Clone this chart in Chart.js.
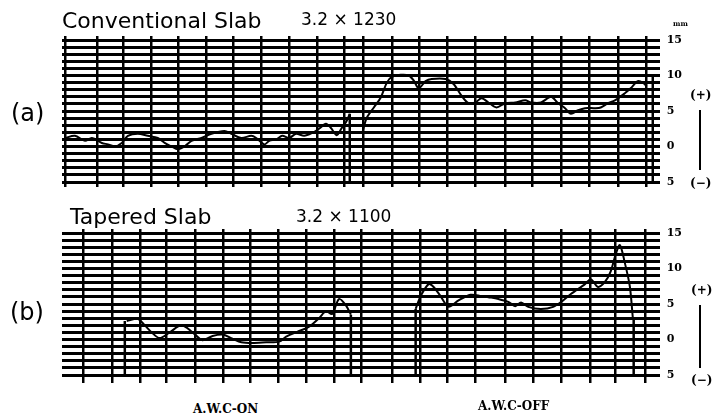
<!DOCTYPE html>
<html>
<head>
<meta charset="utf-8">
<script src="https://cdn.jsdelivr.net/npm/chart.js@4.4.1/dist/chart.umd.min.js"></script>
<style>
body { margin: 0; background: #fff; }
#wrap { position: relative; width: 720px; height: 416px; overflow: hidden; background: #fff; }
canvas { position: absolute; left: 0; }
.t { position: absolute; color: #000; white-space: nowrap; line-height: 1; }
.hand { font-family: "DejaVu Sans", sans-serif; font-weight: normal; }
.num { font-family: "DejaVu Sans", sans-serif; }
.cap { font-family: "DejaVu Serif", serif; font-weight: bold; font-size: 12px; }
.sign { font-family: "DejaVu Serif", serif; font-weight: bold; font-size: 12px; }
.arrow { position: absolute; width: 2px; background: #000; }
</style>
</head>
<body>
<div id="wrap">
  <canvas id="chartA" width="720" height="200" style="top:0"></canvas>
  <canvas id="chartB" width="720" height="200" style="top:198px"></canvas>

  <div class="t hand" style="left:62px;top:10px;font-size:22px">Conventional Slab</div>
  <div class="t num" style="left:301px;top:11px;font-size:17px">3.2 × 1230</div>
  <div class="t hand" style="left:11px;top:101px;font-size:24px">(a)</div>

  <div class="t hand" style="left:70px;top:206px;font-size:22px">Tapered Slab</div>
  <div class="t num" style="left:296px;top:208px;font-size:17px">3.2 × 1100</div>
  <div class="t hand" style="left:10px;top:300px;font-size:24px">(b)</div>

  <div class="t cap" style="left:193px;top:403px">A.W.C-ON</div>
  <div class="t cap" style="left:478px;top:400px">A.W.C-OFF</div>

  <div class="t cap" style="left:673px;top:20px;font-size:7px">mm</div>
  <div class="t sign" style="left:690px;top:89px">(+)</div>
  <div class="arrow" style="left:699px;top:110px;height:60px"></div>
  <div class="t sign" style="left:690px;top:177px">(−)</div>

  <div class="t sign" style="left:691px;top:284px">(+)</div>
  <div class="arrow" style="left:699px;top:305px;height:63px"></div>
  <div class="t sign" style="left:691px;top:374px">(−)</div>
</div>
<script>
// x in chart-paper divisions, y in mm
const gridA = [0.11, 1.26, 2.23, 3.24, 4.21, 5.22, 6.19, 7.2, 8.21, 9.22, 10.19, 10.87,
    11.92, 12.92, 13.93, 14.94, 16.02, 17.0, 18.03, 19.04, 20.09, 21.13];
const gridB = [0.76, 1.8, 2.81, 3.78, 4.82, 5.83, 6.8, 7.81, 8.82, 9.83, 10.8, 11.92,
    12.96, 13.93, 14.94, 16.02, 17.03, 18.03, 19.08, 20.01, 21.06];

// (a) Conventional Slab
const aX1 = [0.11, 0.47, 0.83, 1.08, 1.44, 1.66, 1.91, 2.16, 2.38, 2.74, 3.10, 3.46, 3.71, 3.96,
    4.18, 4.43, 4.68, 5.04, 5.40, 5.87, 6.12, 6.48, 6.84, 7.02, 7.31, 7.49, 7.74, 7.96, 8.21,
    8.46, 8.75, 9.04, 9.29, 9.54, 9.72, 9.93, 10.11, 10.26, 10.40];
const aY1 = [1.2, 1.5, 0.8, 1.2, 0.5, 0.3, 0.0, 0.5, 1.5, 1.8, 1.5, 1.2, 0.5, 0.0,
    -0.4, 0.0, 0.8, 1.2, 1.8, 2.2, 1.8, 1.2, 1.5, 1.2, 0.3, 0.8, 1.0, 1.5, 1.2,
    1.8, 1.5, 1.9, 2.5, 3.2, 2.6, 1.6, 2.6, 3.4, 4.6];
const aX2 = [10.87, 11.02, 11.27, 11.52, 11.74, 11.92, 12.24, 12.53, 12.71, 12.89, 13.14, 13.36,
    13.86, 14.15, 14.43, 14.69, 14.94, 15.16, 15.41, 15.70, 16.02, 16.38, 16.74, 16.95, 17.31,
    17.67, 17.93, 18.18, 18.39, 18.65, 18.90, 19.26, 19.47, 19.73, 19.98, 20.34, 20.55, 20.81,
    20.99, 21.13];
const aY2 = [2.2, 4.1, 5.5, 6.9, 9.0, 9.8, 10.1, 10.0, 9.3, 8.2, 9.2, 9.5,
    9.5, 8.8, 7.2, 6.1, 6.2, 6.8, 6.2, 5.5, 6.1, 6.2, 6.5, 6.2, 6.2,
    7.0, 6.1, 5.4, 4.6, 5.1, 5.4, 5.4, 5.5, 6.1, 6.5, 7.5, 8.2, 9.2,
    9.0, 8.5];
// pen strokes (vertical marks): x and top, each running down to the bottom line
const aStrokeX = [10.40, 21.35];
const aStrokeTop = [4.6, 9.8];

// (b) Tapered Slab
const bX1 = [2.34, 2.74, 2.99, 3.24, 3.53, 3.89, 4.32, 4.72, 5.08, 5.44, 5.80, 6.16, 6.48,
    6.88, 7.38, 7.85, 8.10, 8.57, 8.93, 9.29, 9.54, 9.76, 10.01, 10.26, 10.44];
const bY1 = [2.6, 2.9, 2.0, 1.0, 0.2, 1.0, 2.0, 1.0, -0.1, 0.5, 0.7, 0.1, -0.4,
    -0.5, -0.4, -0.3, 0.4, 1.2, 1.8, 3.0, 4.0, 3.6, 5.7, 4.8, 3.5];
const bX2 = [12.78, 12.96, 13.25, 13.43, 13.68, 13.97, 14.33, 14.76, 15.16, 15.51, 15.77, 16.13,
    16.38, 16.59, 16.85, 17.31, 17.75, 18.11, 18.39, 18.90, 19.11, 19.37, 19.62, 19.83, 20.01,
    20.16, 20.34, 20.52, 20.63];
const bY2 = [4.3, 6.1, 7.8, 7.4, 6.1, 4.6, 5.5, 6.3, 6.1, 5.9, 5.7, 5.3,
    4.7, 5.2, 4.6, 4.3, 4.6, 5.5, 6.4, 7.8, 8.5, 7.4, 8.1, 9.6, 12.0,
    13.3, 10.8, 7.5, 3.0];
const bStrokeX = [2.27, 10.44, 12.78, 20.66];
const bStrokeTop = [2.6, 3.5, 4.3, 3.0];

const yMin = -5, yMax = 15;

function pts(xs, ys) {
    return xs.map((x, i) => ({ x: x, y: ys[i] }));
}

function strokes(xs, tops) {
    const out = [];
    xs.forEach((x, i) => {
        out.push({ x: x, y: tops[i] }, { x: x, y: yMin }, { x: x, y: null });
    });
    return out;
}

function setGrid(list) {
    return scale => { scale.ticks = list.map(v => ({ value: v })); };
}

function makeChart(id, traces, strokeData, grid, pad, tickBottom) {
    const ds = traces.map(d => ({
        data: d, borderColor: '#000', borderWidth: 2, pointRadius: 0,
        tension: 0.3, fill: false
    }));
    ds.push({ data: strokeData, borderColor: '#000', borderWidth: 2.5, pointRadius: 0, tension: 0 });

    return new Chart(document.getElementById(id), {
        type: 'line',
        data: { datasets: ds },
        options: {
            responsive: false,
            animation: false,
            devicePixelRatio: 1,
            layout: { padding: pad },
            plugins: { legend: { display: false }, tooltip: { enabled: false } },
            scales: {
                x: {
                    type: 'linear', position: 'bottom', min: 0, max: 21.6,
                    afterBuildTicks: setGrid(grid),
                    ticks: { display: false },
                    border: { display: false },
                    grid: { color: '#000', lineWidth: 2.5, tickLength: tickBottom }
                },
                x2: {
                    type: 'linear', position: 'top', min: 0, max: 21.6,
                    afterBuildTicks: setGrid(grid),
                    ticks: { display: false },
                    border: { display: false },
                    grid: { color: '#000', lineWidth: 2.5, tickLength: 4, drawOnChartArea: false }
                },
                y: {
                    position: 'right', min: yMin, max: yMax,
                    border: { display: false },
                    grid: { color: '#000', lineWidth: 3, drawTicks: false },
                    ticks: {
                        stepSize: 1, autoSkip: false, padding: 7, color: '#000',
                        font: { family: 'DejaVu Serif', weight: 'bold', size: 11 },
                        callback: v => (v % 5 === 0 ? String(Math.abs(v)) : '')
                    }
                }
            }
        }
    });
}

makeChart('chartA', [pts(aX1, aY1), pts(aX2, aY2)], strokes(aStrokeX, aStrokeTop),
    gridA, { top: 36, bottom: 13, left: 62, right: 31 }, 5);
makeChart('chartB', [pts(bX1, bY1), pts(bX2, bY2)], strokes(bStrokeX, bStrokeTop),
    gridB, { top: 31, bottom: 15, left: 62, right: 31 }, 8);
</script>
</body>
</html>
